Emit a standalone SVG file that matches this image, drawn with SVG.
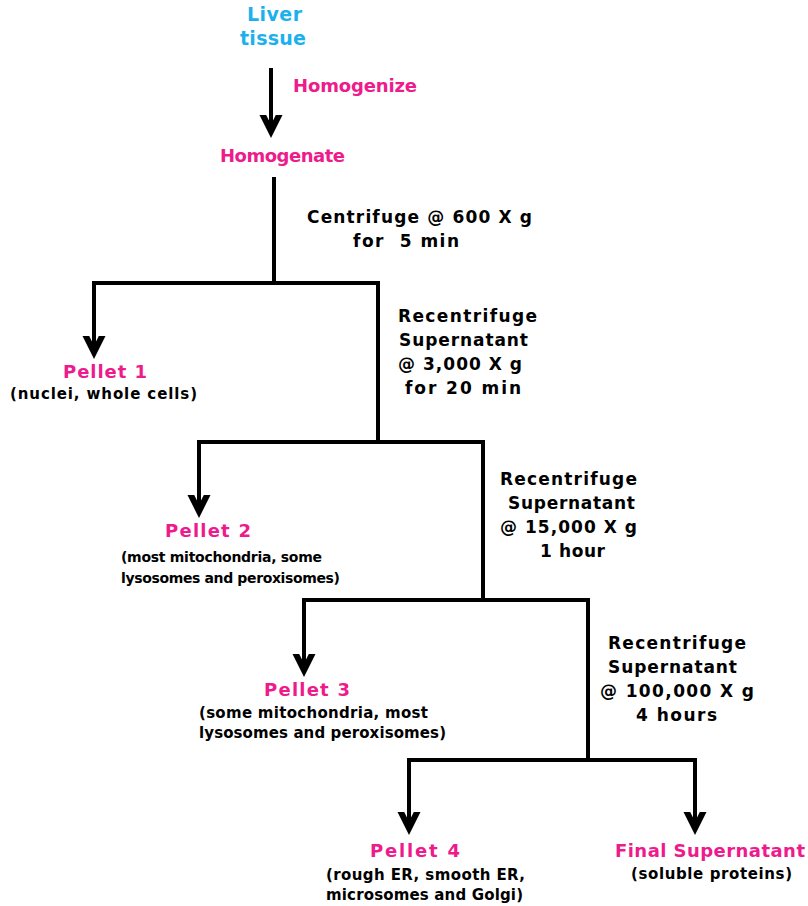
<svg xmlns="http://www.w3.org/2000/svg" xmlns:xlink="http://www.w3.org/1999/xlink" width="808" height="906" viewBox="0 0 808 906">
<style>
text{font-family:"DejaVu Sans","Liberation Sans",sans-serif;font-weight:bold}
.start{fill:#1db1ec;font-size:19px}
.title{fill:#ee1b8c;font-size:18px}
.step{fill:#000;font-size:17px}
.note{fill:#000;font-size:15px}
.small{font-size:14px}
.wire{fill:none;stroke:#000;stroke-width:4;stroke-linejoin:miter;stroke-linecap:butt}
.head{fill:#000}
</style>
<defs>
<path id="head" class="head" d="M-11.5,-23 L0,0 L11.5,-23 L4.8,-23 L0,-13.4 L-4.8,-23 Z"/>
</defs>
<rect width="808" height="906" fill="#fff"/>
<g id="connectors">
<path class="wire" d="M271,68 V130"/>
<use xlink:href="#head" href="#head" transform="translate(271,138)"/>
<path class="wire" d="M274,177 V283"/>
<path class="wire" d="M94,351 V283 H378 V442"/>
<use xlink:href="#head" href="#head" transform="translate(94,359)"/>
<path class="wire" d="M199,510 V442 H483 V600"/>
<use xlink:href="#head" href="#head" transform="translate(199,518)"/>
<path class="wire" d="M304,669 V600 H588 V760"/>
<use xlink:href="#head" href="#head" transform="translate(304,677)"/>
<path class="wire" d="M409,827 V760 H695 V827"/>
<use xlink:href="#head" href="#head" transform="translate(409,835)"/>
<use xlink:href="#head" href="#head" transform="translate(695,835)"/>
</g>
<g id="liver">
<text class="start" x="247" y="21" textLength="55" lengthAdjust="spacing">Liver</text>
<text class="start" x="240" y="45" textLength="66" lengthAdjust="spacing">tissue</text>
</g>
<g id="homogenize-label">
<text class="title" x="293" y="92" textLength="124" lengthAdjust="spacing">Homogenize</text>
</g>
<g id="homogenate">
<text class="title" x="220" y="162" textLength="125" lengthAdjust="spacing">Homogenate</text>
</g>
<g id="step1">
<text class="step" x="307" y="223" textLength="225" lengthAdjust="spacing">Centrifuge @ 600 X g</text>
<text class="step" x="353" y="247" textLength="106" lengthAdjust="spacing" xml:space="preserve">for  5 min</text>
</g>
<g id="pellet1">
<text class="title" x="63" y="378" textLength="84" lengthAdjust="spacing">Pellet 1</text>
<text class="note" x="10" y="399" textLength="187" lengthAdjust="spacing">(nuclei, whole cells)</text>
</g>
<g id="step2">
<text class="step" x="398" y="322" textLength="139" lengthAdjust="spacing">Recentrifuge</text>
<text class="step" x="399" y="346" textLength="129" lengthAdjust="spacing">Supernatant</text>
<text class="step" x="398" y="370" textLength="124" lengthAdjust="spacing">@ 3,000 X g</text>
<text class="step" x="405" y="394" textLength="116" lengthAdjust="spacing">for 20 min</text>
</g>
<g id="pellet2">
<text class="title" x="165" y="537" textLength="86" lengthAdjust="spacing">Pellet 2</text>
<text class="note small" x="121" y="562" textLength="201" lengthAdjust="spacing">(most mitochondria, some</text>
<text class="note small" x="121" y="583" textLength="219" lengthAdjust="spacing">lysosomes and peroxisomes)</text>
</g>
<g id="step3">
<text class="step" x="500" y="485" textLength="137" lengthAdjust="spacing">Recentrifuge</text>
<text class="step" x="508" y="509" textLength="127" lengthAdjust="spacing">Supernatant</text>
<text class="step" x="500" y="533" textLength="137" lengthAdjust="spacing">@ 15,000 X g</text>
<text class="step" x="540" y="557" textLength="65" lengthAdjust="spacing">1 hour</text>
</g>
<g id="pellet3">
<text class="title" x="264" y="696" textLength="86" lengthAdjust="spacing">Pellet 3</text>
<text class="note" x="199" y="718" textLength="229" lengthAdjust="spacing">(some mitochondria, most</text>
<text class="note" x="199" y="738" textLength="247" lengthAdjust="spacing">lysosomes and peroxisomes)</text>
</g>
<g id="step4">
<text class="step" x="608" y="649" textLength="138" lengthAdjust="spacing">Recentrifuge</text>
<text class="step" x="608" y="673" textLength="129" lengthAdjust="spacing">Supernatant</text>
<text class="step" x="600" y="697" textLength="154" lengthAdjust="spacing">@ 100,000 X g</text>
<text class="step" x="636" y="721" textLength="81" lengthAdjust="spacing">4 hours</text>
</g>
<g id="pellet4">
<text class="title" x="370" y="857" textLength="90" lengthAdjust="spacing">Pellet 4</text>
<text class="note" x="326" y="880" textLength="199" lengthAdjust="spacing">(rough ER, smooth ER,</text>
<text class="note" x="326" y="900" textLength="197" lengthAdjust="spacing">microsomes and Golgi)</text>
</g>
<g id="final-supernatant">
<text class="title" x="615" y="857" textLength="190" lengthAdjust="spacing">Final Supernatant</text>
<text class="note" x="631" y="879" textLength="161" lengthAdjust="spacing">(soluble proteins)</text>
</g>
</svg>
